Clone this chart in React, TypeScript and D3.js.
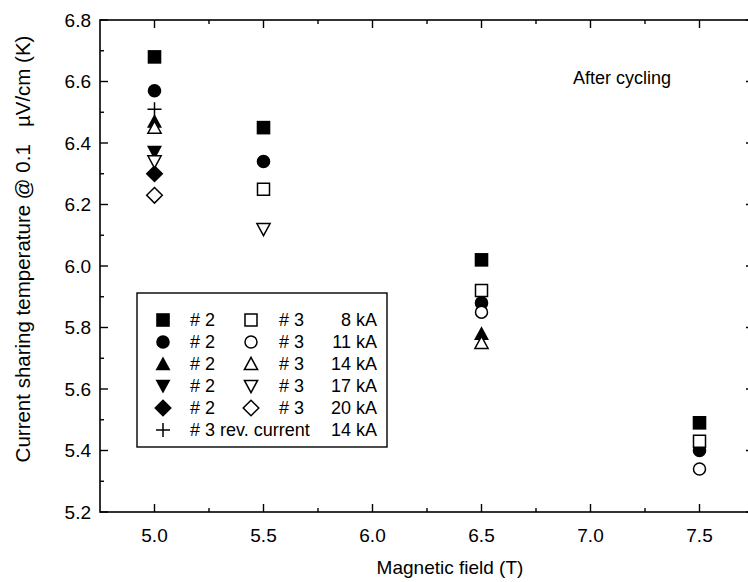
import React, { useEffect, useRef } from "react";
import * as d3 from "d3";

const fields = [5.0, 5.5, 6.5, 7.5];
const s2_8kA = [6.68, 6.45, 6.02, 5.49];
const s2_11kA = [6.57, 6.34, 5.88, 5.40];
const s2_14kA = [6.47, null, 5.78, null];
const s2_17kA = [6.37, null, null, null];
const s2_20kA = [6.30, null, null, null];
const s3_8kA = [null, 6.25, 5.92, 5.43];
const s3_11kA = [null, null, 5.85, 5.34];
const s3_14kA = [6.45, null, 5.75, null];
const s3_17kA = [6.34, 6.12, null, null];
const s3_20kA = [6.23, null, null, null];
const s3_rev14kA = [6.51, null, null, null];

const yTicks = [5.2, 5.4, 5.6, 5.8, 6.0, 6.2, 6.4, 6.6, 6.8];
const xTicks = [5.0, 5.5, 6.0, 6.5, 7.0, 7.5];
const legendCurrents = ["8 kA", "11 kA", "14 kA", "17 kA", "20 kA"];

type Shape = "square" | "circle" | "up" | "down" | "diamond" | "plus";

const shapes: Shape[] = ["square", "circle", "up", "down", "diamond"];
const filledSeries = [s2_8kA, s2_11kA, s2_14kA, s2_17kA, s2_20kA];
const openSeries = [s3_8kA, s3_11kA, s3_14kA, s3_17kA, s3_20kA];

function markerPath(shape: Shape, r: number): string {
  const p = d3.path();
  switch (shape) {
    case "square":
      p.rect(-r, -r, 2 * r, 2 * r);
      break;
    case "circle":
      p.arc(0, 0, r, 0, Math.PI * 2);
      p.closePath();
      break;
    case "up": {
      const h = r * 1.1;
      p.moveTo(0, -h);
      p.lineTo(h, h * 0.85);
      p.lineTo(-h, h * 0.85);
      p.closePath();
      break;
    }
    case "down": {
      const h = r * 1.1;
      p.moveTo(0, h);
      p.lineTo(h, -h * 0.85);
      p.lineTo(-h, -h * 0.85);
      p.closePath();
      break;
    }
    case "diamond": {
      const h = r * 1.3;
      p.moveTo(0, -h);
      p.lineTo(h, 0);
      p.lineTo(0, h);
      p.lineTo(-h, 0);
      p.closePath();
      break;
    }
    case "plus":
      p.moveTo(-r, 0);
      p.lineTo(r, 0);
      p.moveTo(0, -r);
      p.lineTo(0, r);
      break;
  }
  return p.toString();
}

export default function App() {
  const ref = useRef<SVGSVGElement>(null);

  useEffect(() => {
    const svg = d3.select(ref.current);
    svg.selectAll("*").remove();
    const left = 100, right = 754, top = 20, bottom = 512;
    const font = "'Liberation Sans', Arial, Helvetica, sans-serif";

    const x = d3.scaleLinear().domain([4.75, 7.75]).range([left, right]);
    const y = d3.scaleLinear().domain([5.2, 6.8]).range([bottom, top]);

    const g = svg.append("g");

    // Frame
    g.append("rect")
      .attr("x", left).attr("y", top)
      .attr("width", right - left).attr("height", bottom - top)
      .attr("fill", "none").attr("stroke", "#000").attr("stroke-width", 1.6);

    // Ticks
    const yMinor = d3.range(5.3, 6.8, 0.2);
    const xMinor = d3.range(5.25, 7.75, 0.5);
    const tk = g.append("g").attr("stroke", "#000").attr("stroke-width", 1.4);
    yTicks.forEach((v) => {
      tk.append("line").attr("x1", left).attr("x2", left + 8).attr("y1", y(v)).attr("y2", y(v));
      tk.append("line").attr("x1", right).attr("x2", right - 8).attr("y1", y(v)).attr("y2", y(v));
    });
    yMinor.forEach((v) => {
      tk.append("line").attr("x1", left).attr("x2", left + 4).attr("y1", y(v)).attr("y2", y(v));
      tk.append("line").attr("x1", right).attr("x2", right - 4).attr("y1", y(v)).attr("y2", y(v));
    });
    xTicks.forEach((v) => {
      tk.append("line").attr("x1", x(v)).attr("x2", x(v)).attr("y1", bottom).attr("y2", bottom - 8);
      tk.append("line").attr("x1", x(v)).attr("x2", x(v)).attr("y1", top).attr("y2", top + 8);
    });
    xMinor.forEach((v) => {
      tk.append("line").attr("x1", x(v)).attr("x2", x(v)).attr("y1", bottom).attr("y2", bottom - 4);
      tk.append("line").attr("x1", x(v)).attr("x2", x(v)).attr("y1", top).attr("y2", top + 4);
    });

    // Tick labels
    yTicks.forEach((v) => {
      g.append("text").attr("x", left - 9).attr("y", y(v)).attr("dy", "0.35em")
        .attr("text-anchor", "end").attr("font-family", font).attr("font-size", 19)
        .text(d3.format(".1f")(v));
    });
    xTicks.forEach((v) => {
      g.append("text").attr("x", x(v)).attr("y", bottom + 30)
        .attr("text-anchor", "middle").attr("font-family", font).attr("font-size", 19)
        .text(d3.format(".1f")(v));
    });

    // Axis titles
    g.append("text").attr("x", 450).attr("y", 574).attr("text-anchor", "middle")
      .attr("font-family", font).attr("font-size", 19).text("Magnetic field (T)");
    g.append("text").attr("transform", `translate(30, 249) rotate(-90)`)
      .attr("text-anchor", "middle").attr("font-family", font).attr("font-size", 20.5)
      .attr("xml:space", "preserve")
      .text("Current sharing temperature @ 0.1   \u00b5V/cm (K)");

    g.append("text").attr("x", 573).attr("y", 84).attr("font-family", font).attr("font-size", 18)
      .text("After cycling");

    // Data markers
    const r = 6.8;
    const dg = g.append("g");
    filledSeries.forEach((ser, i) => {
      ser.forEach((v, j) => {
        if (v == null) return;
        dg.append("path").attr("d", markerPath(shapes[i], r))
          .attr("transform", `translate(${x(fields[j])},${y(v)})`)
          .attr("fill", "#000");
      });
    });
    openSeries.forEach((ser, i) => {
      ser.forEach((v, j) => {
        if (v == null) return;
        dg.append("path").attr("d", markerPath(shapes[i], r - 0.8))
          .attr("transform", `translate(${x(fields[j])},${y(v)})`)
          .attr("fill", "#fff").attr("stroke", "#000").attr("stroke-width", 1.5);
      });
    });
    s3_rev14kA.forEach((v, j) => {
      if (v == null) return;
      dg.append("path").attr("d", markerPath("plus", 7))
        .attr("transform", `translate(${x(fields[j])},${y(v)})`)
        .attr("fill", "none").attr("stroke", "#000").attr("stroke-width", 1.5);
    });

    // Legend
    const fs = 18;
    const lg = g.append("g");
    lg.append("rect").attr("x", 137).attr("y", 293).attr("width", 250).attr("height", 154)
      .attr("fill", "#fff").attr("stroke", "#000").attr("stroke-width", 1.4);
    const rowY = (i: number) => 320 + i * 22;
    shapes.forEach((sh, i) => {
      lg.append("path").attr("d", markerPath(sh, r))
        .attr("transform", `translate(163,${rowY(i)})`).attr("fill", "#000");
      lg.append("text").attr("x", 190).attr("y", rowY(i)).attr("dy", "0.36em")
        .attr("font-family", font).attr("font-size", fs).text("# 2");
      lg.append("path").attr("d", markerPath(sh, r - 0.8))
        .attr("transform", `translate(251,${rowY(i)})`)
        .attr("fill", "#fff").attr("stroke", "#000").attr("stroke-width", 1.5);
      lg.append("text").attr("x", 279).attr("y", rowY(i)).attr("dy", "0.36em")
        .attr("font-family", font).attr("font-size", fs).text("# 3");
      lg.append("text").attr("x", 377).attr("y", rowY(i)).attr("dy", "0.36em")
        .attr("text-anchor", "end").attr("font-family", font).attr("font-size", fs)
        .text(legendCurrents[i]);
    });
    lg.append("path").attr("d", markerPath("plus", 7))
      .attr("transform", `translate(163,${rowY(5)})`)
      .attr("fill", "none").attr("stroke", "#000").attr("stroke-width", 1.5);
    lg.append("text").attr("x", 190).attr("y", rowY(5)).attr("dy", "0.36em")
      .attr("font-family", font).attr("font-size", fs).text("# 3 rev. current");
    lg.append("text").attr("x", 377).attr("y", rowY(5)).attr("dy", "0.36em")
      .attr("text-anchor", "end").attr("font-family", font).attr("font-size", fs)
      .text("14 kA");
  }, []);

  return (
    <svg
      ref={ref}
      width={748}
      height={582}
      style={{ position: "absolute", left: 0, top: 0, background: "#fff" }}
    />
  );
}
